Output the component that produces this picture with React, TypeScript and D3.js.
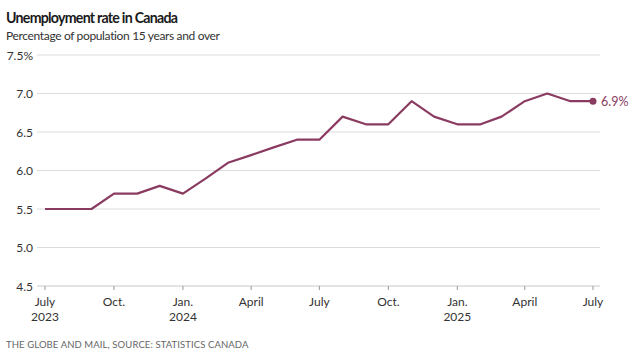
import React from "react";
import * as d3 from "d3";

const months = [
  "2023-07","2023-08","2023-09","2023-10","2023-11","2023-12",
  "2024-01","2024-02","2024-03","2024-04","2024-05","2024-06",
  "2024-07","2024-08","2024-09","2024-10","2024-11","2024-12",
  "2025-01","2025-02","2025-03","2025-04","2025-05","2025-06","2025-07",
];
const rates = [
  5.5, 5.5, 5.5, 5.7, 5.7, 5.8,
  5.7, 5.9, 6.1, 6.2, 6.3, 6.4,
  6.4, 6.7, 6.6, 6.6, 6.9, 6.7,
  6.6, 6.6, 6.7, 6.9, 7.0, 6.9, 6.9,
];
const yTicks = [4.5, 5.0, 5.5, 6.0, 6.5, 7.0, 7.5];
const xTickMonths = ["2023-07","2023-10","2024-01","2024-04","2024-07","2024-10","2025-01","2025-04","2025-07"];
const xTickLabels = [["July","2023"],["Oct."],["Jan.","2024"],["April"],["July"],["Oct."],["Jan.","2025"],["April"],["July"]];

const W = 640, H = 355;
const FONT = "Lato, 'Open Sans', sans-serif";
const LINE = "#8a3b60";

export default function App() {
  const parse = d3.timeParse("%Y-%m");
  const data = months.map((m, i) => ({ d: parse(m)!, v: rates[i] }));
  const x = d3.scaleTime().domain([parse(months[0])!, parse(months[months.length - 1])!]).range([45, 593]);
  const y = d3.scaleLinear().domain([4.5, 7.5]).range([286, 55]);
  const line = d3.line<{ d: Date; v: number }>().x(p => x(p.d)).y(p => y(p.v));
  const last = data[data.length - 1];

  return (
    <svg width={W} height={H} style={{ position: "absolute", left: 0, top: 0, background: "#fff" }} fontFamily={FONT}>
      <text x={6} y={23} fontSize={14.2} fontWeight={700} fill="#1a1a1a" letterSpacing={-0.75}>Unemployment rate in Canada</text>
      <text x={6} y={40} fontSize={12} fill="#333" letterSpacing={-0.35}>Percentage of population 15 years and over</text>
      {yTicks.map((t, i) => (
        <g key={t}>
          <line x1={37} x2={600} y1={y(t)} y2={y(t)} stroke={i === 0 ? "#c8c8c8" : "#dcdcdc"} strokeWidth={1} />
          <text x={33} y={y(t) + 4.5} fontSize={12} fill="#333" textAnchor="end">
            {t.toFixed(1) + (i === yTicks.length - 1 ? "%" : "")}
          </text>
        </g>
      ))}
      {xTickMonths.map((m, i) => {
        const xx = x(parse(m)!);
        return (
          <g key={m}>
            <line x1={xx} x2={xx} y1={286} y2={290} stroke="#999" />
            {xTickLabels[i].map((s, j) => (
              <text key={j} x={xx} y={306 + j * 15} fontSize={12} fill="#333" textAnchor="middle">{s}</text>
            ))}
          </g>
        );
      })}
      <path d={line(data)!} fill="none" stroke={LINE} strokeWidth={2.2} strokeLinejoin="round" />
      <circle cx={x(last.d)} cy={y(last.v)} r={3.5} fill={LINE} />
      <text x={x(last.d) + 8} y={y(last.v) + 4.5} fontSize={12.5} fill={LINE}>{last.v.toFixed(1)}%</text>
      <text x={6} y={348} fontSize={9.5} fill="#666" letterSpacing={0.1}>THE GLOBE AND MAIL, SOURCE: STATISTICS CANADA</text>
    </svg>
  );
}
